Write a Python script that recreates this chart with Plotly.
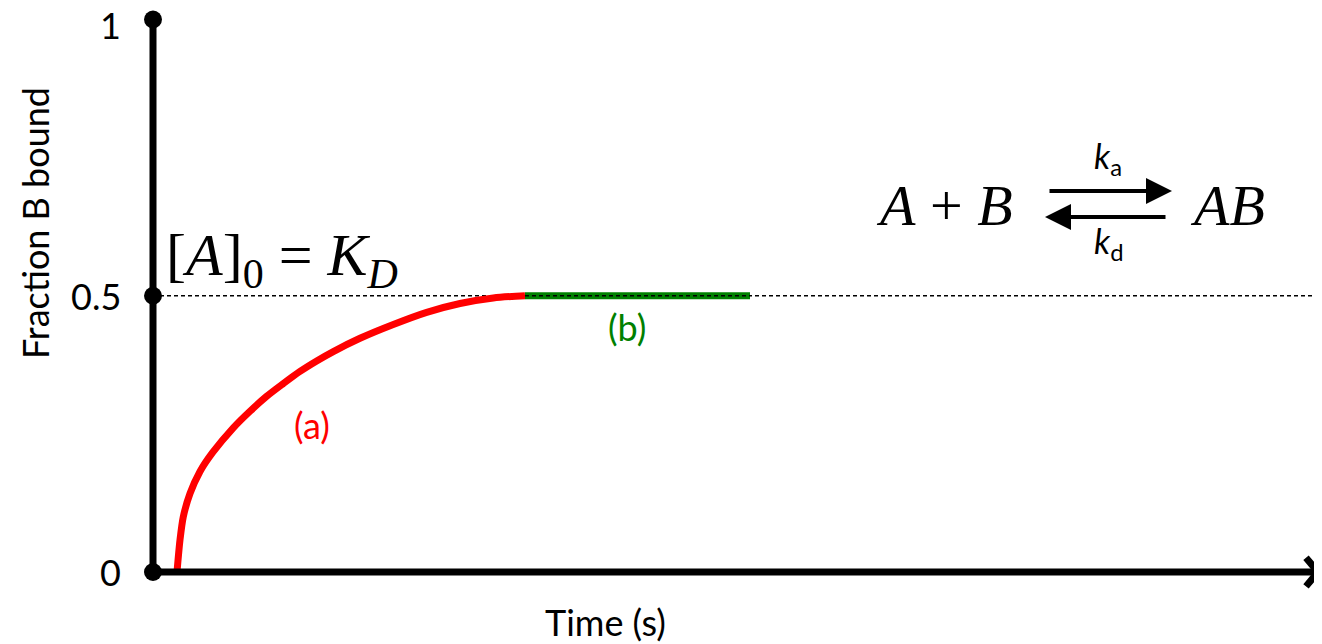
import plotly.graph_objects as go

# ---- data (time in arbitrary units, fraction of B bound) ----
curve_a_t = [24, 27, 30.3, 37, 47, 59.5, 80.3, 97, 113.7, 130.3, 147, 163.7, 180.3,
             207, 240.3, 273.7, 307, 340.3, 372]
curve_a_y = [0.0, 0.058, 0.100, 0.142, 0.182, 0.216, 0.261, 0.291, 0.318, 0.341, 0.363,
             0.382, 0.399, 0.423, 0.448, 0.470, 0.486, 0.496, 0.5]
curve_b_t = [372, 597]
curve_b_y = [0.5, 0.5]
eq_level = 0.5
x_max = 1165
dash_end = 1169
ytick_vals = [0, 0.5, 1]
ytick_text = ["0", "0.5", "1"]

SANS = "Lato"
SERIF = "Liberation Serif"

# page offset of the figure div (body margin)
OFF = 8
W, H = 1314, 636
ML, MT, MB = 132, 0, 36
PLOT_H = H - MT - MB
PLOT_W = W - ML
X0_PAGE, Y0_PAGE = 153, 572
PX_PER_Y = 552.5

fig = go.Figure()

# dashed equilibrium line
fig.add_trace(go.Scatter(x=[0, dash_end], y=[eq_level, eq_level], mode="lines",
                         line=dict(color="black", width=1.5, dash="4px,3px"),
                         hoverinfo="skip", showlegend=False))
# curve (a)
fig.add_trace(go.Scatter(x=curve_a_t, y=curve_a_y, mode="lines",
                         line=dict(color="#ff0000", width=7, shape="spline", smoothing=0.8),
                         showlegend=False))
# line (b)
fig.add_trace(go.Scatter(x=curve_b_t, y=curve_b_y, mode="lines",
                         line=dict(color="#008000", width=7),
                         showlegend=False))
# dashed line shows through green
fig.add_trace(go.Scatter(x=curve_b_t, y=curve_b_y, mode="lines",
                         line=dict(color="black", width=1.5, dash="4px,3px"),
                         hoverinfo="skip", showlegend=False))
# y axis line
fig.add_trace(go.Scatter(x=[0, 0], y=[0, 1], mode="lines",
                         line=dict(color="black", width=7),
                         hoverinfo="skip", showlegend=False))
# x axis line
fig.add_trace(go.Scatter(x=[0, x_max], y=[0, 0], mode="lines",
                         line=dict(color="black", width=7),
                         hoverinfo="skip", showlegend=False))
# arrow head chevron
fig.add_trace(go.Scatter(x=[x_max - 12, x_max, x_max - 12], y=[0.026, 0, -0.026], mode="lines",
                         line=dict(color="black", width=7),
                         hoverinfo="skip", showlegend=False))
# tick dots
fig.add_trace(go.Scatter(x=[0] * len(ytick_vals), y=ytick_vals, mode="markers",
                         marker=dict(color="black", size=18, symbol="circle"),
                         hoverinfo="skip", showlegend=False, cliponaxis=False))

def px2x(px):
    return px - X0_PAGE

def py2y(py):
    return (Y0_PAGE - py) / PX_PER_Y

def px2paper(px):
    return (px - OFF - ML) / PLOT_W

def py2paper(py):
    return (MT + PLOT_H - (py - OFF)) / PLOT_H

# axis ranges (data units, 1 x-unit per pixel)
x_lo = px2x(OFF + ML)
x_hi = px2x(OFF + W)
y_hi = py2y(OFF + MT)
y_lo = py2y(OFF + MT + PLOT_H)

ann = []
# y tick labels
for v, t in zip(ytick_vals, ytick_text):
    ann.append(dict(xref="paper", yref="y", x=px2paper(123), y=v, xanchor="right",
                    yanchor="middle", text=t, showarrow=False,
                    yshift=-5 if v == 1 else 0,
                    font=dict(family=SANS, size=36, color="black")))
ann.append(dict(x=px2x(312), y=py2y(425), text="(a)", showarrow=False,
                xanchor="center", yanchor="middle",
                font=dict(family=SANS, size=36, color="#ff0000")))
ann.append(dict(x=px2x(627), y=py2y(327), text="(b)", showarrow=False,
                xanchor="center", yanchor="middle",
                font=dict(family=SANS, size=36, color="#008000")))
ann.append(dict(x=px2x(164), y=py2y(259), xanchor="left", yanchor="middle",
                text="[<i>A</i>]<sub>0</sub> = <i>K<sub>D</sub></i>",
                showarrow=False, font=dict(family=SERIF, size=60, color="black")))
ann.append(dict(x=px2x(944), y=py2y(205), text="<i>A</i> + <i>B</i>", showarrow=False,
                xanchor="center", yanchor="middle",
                font=dict(family=SERIF, size=58, color="black")))
ann.append(dict(x=px2x(1227), y=py2y(205), text="<i>AB</i>", showarrow=False,
                xanchor="center", yanchor="middle",
                font=dict(family=SERIF, size=58, color="black")))
ann.append(dict(x=px2x(1108), y=py2y(158), text="<i>k</i><sub>a</sub>", showarrow=False,
                xanchor="center", yanchor="middle",
                font=dict(family=SANS, size=34, color="black")))
ann.append(dict(x=px2x(1108), y=py2y(243), text="<i>k</i><sub>d</sub>", showarrow=False,
                xanchor="center", yanchor="middle",
                font=dict(family=SANS, size=34, color="black")))
# reaction arrows
ann.append(dict(x=px2x(1172), y=py2y(191), ax=-124, ay=0, text="", showarrow=True,
                arrowhead=2, arrowsize=1.3, arrowwidth=4, arrowcolor="black"))
ann.append(dict(x=px2x(1045), y=py2y(217), ax=122, ay=0, text="", showarrow=True,
                arrowhead=2, arrowsize=1.3, arrowwidth=4, arrowcolor="black"))
# axis titles
ann.append(dict(xref="paper", yref="paper", x=px2paper(605), y=py2paper(622),
                xanchor="center", yanchor="middle",
                text="Time (s)", showarrow=False,
                font=dict(family=SANS, size=36, color="black")))
ann.append(dict(xref="paper", yref="paper", x=px2paper(35), y=py2paper(223),
                xanchor="center", yanchor="middle",
                text="Fraction B bound", textangle=-90, showarrow=False,
                font=dict(family=SANS, size=36, color="black")))

fig.update_layout(
    width=W, height=H,
    margin=dict(l=ML, r=0, t=MT, b=MB, pad=0, autoexpand=False),
    paper_bgcolor="white", plot_bgcolor="white",
    annotations=ann,
    xaxis=dict(range=[x_lo, x_hi], showgrid=False, zeroline=False, showline=False,
               showticklabels=False, ticks="", automargin=False),
    yaxis=dict(range=[y_lo, y_hi], showgrid=False, zeroline=False, showline=False,
               showticklabels=False, ticks="", automargin=False),
)

fig.write_html("out.html")
